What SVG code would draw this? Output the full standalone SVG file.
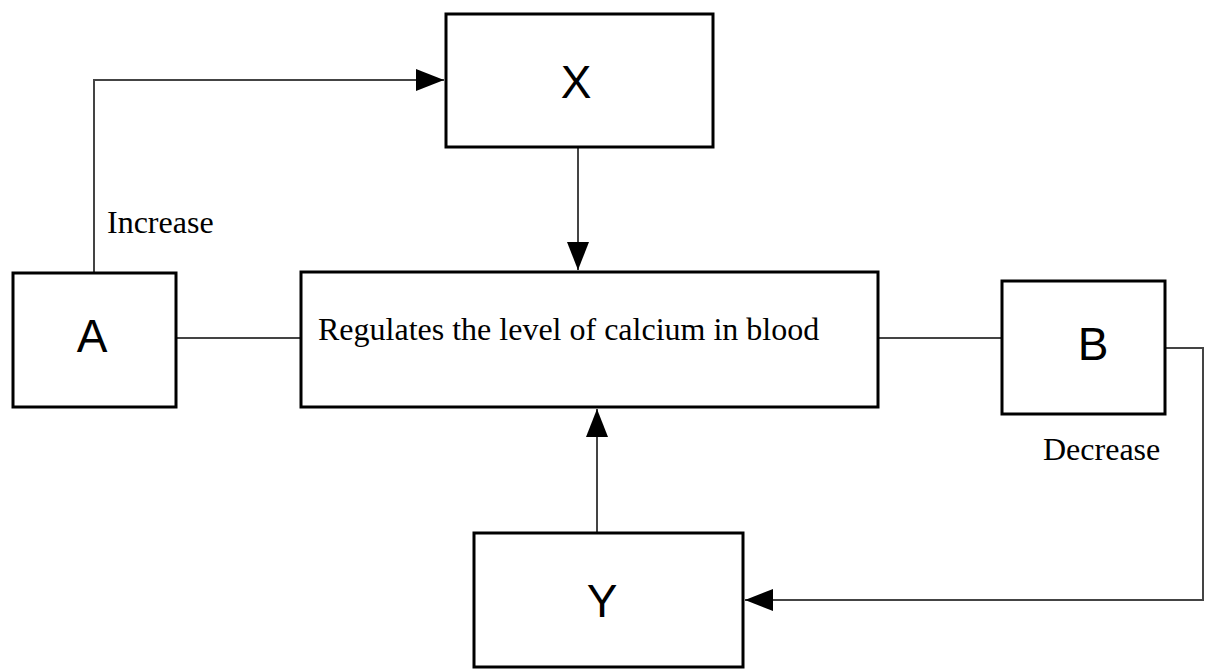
<svg xmlns="http://www.w3.org/2000/svg" width="1205" height="671" viewBox="0 0 1205 671">
<style>
.box{fill:#fff;stroke:#000;stroke-width:3}
.lbl{font-family:"Liberation Sans",Arial,sans-serif;font-size:46px;fill:#000;text-anchor:middle}
.txt{font-family:"Liberation Serif","Times New Roman",serif;font-size:32px;fill:#000}
.conn{fill:none;stroke:#444;stroke-width:2}
</style>
<defs>
<marker id="arr" markerUnits="userSpaceOnUse" markerWidth="30" markerHeight="24" refX="28" refY="11" orient="auto">
<path d="M0,0 L28,11 L0,22 Z" fill="#000"/>
</marker>
</defs>
<rect width="1205" height="671" fill="#fff"/>
<g id="connectors">
<polyline class="conn" points="94,273 94,80 444,80" marker-end="url(#arr)"/>
<line class="conn" x1="578" y1="147" x2="578" y2="270" marker-end="url(#arr)"/>
<line class="conn" x1="176" y1="338" x2="301" y2="338"/>
<line class="conn" x1="878" y1="338" x2="1002" y2="338"/>
<polyline class="conn" points="1165,348 1203,348 1203,600 745,600" marker-end="url(#arr)"/>
<line class="conn" x1="597" y1="533" x2="597" y2="409" marker-end="url(#arr)"/>
</g>
<g id="node-X">
<rect class="box" x="446" y="14" width="267" height="133"/>
<text class="lbl" x="576" y="98">X</text>
</g>
<g id="node-A">
<rect class="box" x="13" y="273" width="163" height="134"/>
<text class="lbl" x="92" y="352">A</text>
</g>
<g id="node-main">
<rect class="box" x="301" y="272" width="577" height="135"/>
<text class="txt" x="318" y="340">Regulates the level of calcium in blood</text>
</g>
<g id="node-B">
<rect class="box" x="1002" y="281" width="163" height="133"/>
<text class="lbl" x="1093" y="360">B</text>
</g>
<g id="node-Y">
<rect class="box" x="474" y="533" width="269" height="134"/>
<text class="lbl" x="602" y="617">Y</text>
</g>
<g id="labels">
<text class="txt" x="107" y="233">Increase</text>
<text class="txt" x="1043" y="460">Decrease</text>
</g>
</svg>
